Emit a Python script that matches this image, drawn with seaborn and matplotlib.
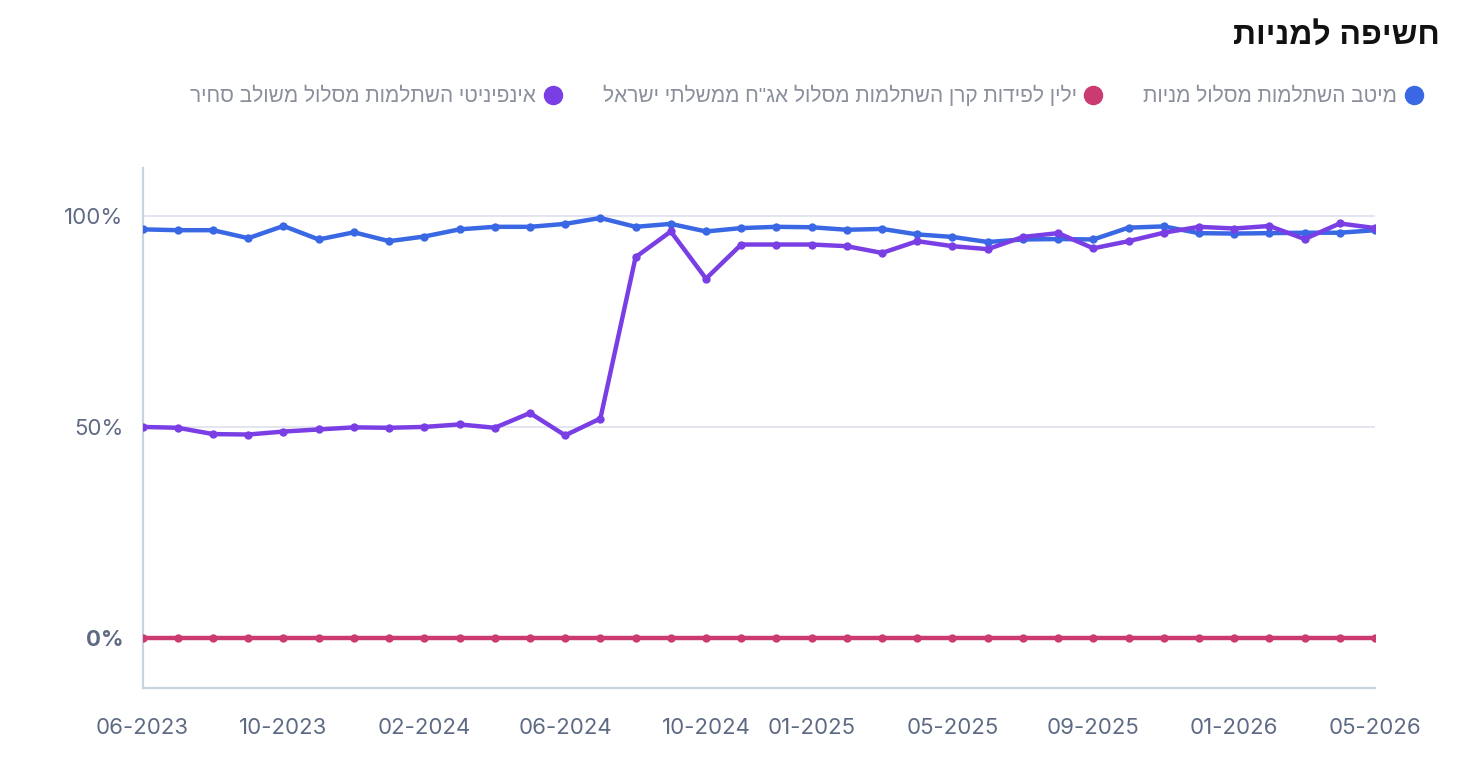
import matplotlib
matplotlib.use("Agg")
import matplotlib.pyplot as plt
import pandas as pd
import seaborn as sns

# נתונים - חשיפה למניות לפי חודש
months = [
    "06-2023", "07-2023", "08-2023", "09-2023", "10-2023", "11-2023", "12-2023",
    "01-2024", "02-2024", "03-2024", "04-2024", "05-2024", "06-2024", "07-2024",
    "08-2024", "09-2024", "10-2024", "11-2024", "12-2024", "01-2025", "02-2025",
    "03-2025", "04-2025", "05-2025", "06-2025", "07-2025", "08-2025", "09-2025",
    "10-2025", "11-2025", "12-2025", "01-2026", "02-2026", "03-2026", "04-2026",
    "05-2026",
]
tick_labels = ["06-2023", "10-2023", "02-2024", "06-2024", "10-2024",
               "01-2025", "05-2025", "09-2025", "01-2026", "05-2026"]

series_names = [
    "מיטב השתלמות מסלול מניות",
    'ילין לפידות קרן השתלמות מסלול אג"ח ממשלתי ישראל',
    "אינפיניטי השתלמות מסלול משולב סחיר",
]

blue_vals = [96.9, 96.7, 96.7, 94.8, 97.7, 94.5, 96.2, 94.1, 95.2, 96.9, 97.5, 97.5,
             98.2, 99.6, 97.5, 98.2, 96.4, 97.2, 97.5, 97.4, 96.8, 97.0, 95.7, 95.1,
             93.9, 94.5, 94.6, 94.5, 97.3, 97.6, 96.0, 95.9, 96.0, 96.1, 96.1, 96.7]
pink_vals = [0.0] * 36
purple_vals = [50.0, 49.8, 48.3, 48.2, 48.9, 49.4, 49.9, 49.8, 50.0, 50.6, 49.8, 53.3,
               48.0, 52.0, 90.3, 96.4, 85.2, 93.3, 93.3, 93.3, 92.9, 91.3, 94.1, 92.9,
               92.2, 95.1, 96.0, 92.4, 94.1, 96.1, 97.5, 97.1, 97.7, 94.6, 98.3, 97.2]

colors = ["#3A68E4", "#CC3A72", "#7A3FE4"]
heb = ["Liberation Sans", "DejaVu Sans"]


def rtl(s):
    return s[::-1]


df = pd.DataFrame({"month": months, "i": range(len(months)),
                   series_names[0]: blue_vals,
                   series_names[1]: pink_vals,
                   series_names[2]: purple_vals})
long_df = df.melt(id_vars=["month", "i"], var_name="series", value_name="value")

sns.set_style("white")
plt.rcParams["font.family"] = ["Inter", "DejaVu Sans"]

fig = plt.figure(figsize=(14.6, 7.74), dpi=100)
ax = fig.add_axes([0.0977, 0.1115, 0.8441, 0.6711])

sns.lineplot(data=long_df, x="i", y="value", hue="series", hue_order=series_names,
             palette=colors, marker="o", markersize=6, markeredgewidth=0,
             linewidth=3.2, ax=ax, legend=False, zorder=3)

ax.set_xlim(0, len(months) - 1)
ax.set_ylim(-11.9, 111.4)
ax.set_xticks([months.index(t) for t in tick_labels])
ax.set_xticklabels(tick_labels, fontsize=16, color="#5E6A84")
ax.set_yticks([0, 50, 100])
ax.set_yticklabels(["0%", "50%", "100%"], fontsize=16, color="#5E6A84")
ax.get_yticklabels()[0].set_fontweight("bold")
ax.tick_params(axis="both", length=0)
ax.tick_params(axis="x", pad=22)
ax.tick_params(axis="y", pad=14)
ax.set_xlabel("")
ax.set_ylabel("")
for y in [50, 100]:
    ax.axhline(y, color="#E3E6EE", lw=1.4, zorder=1)
for s in ["top", "right"]:
    ax.spines[s].set_visible(False)
for s in ["left", "bottom"]:
    ax.spines[s].set_color("#CBD3E1")
    ax.spines[s].set_linewidth(1.6)

fig.text(0.986, 0.953, rtl("חשיפה למניות"), ha="right", va="center",
         fontsize=23, fontweight="bold", color="#111111", family=heb)

# מקרא מימין לשמאל
handles = [plt.Line2D([], [], marker="o", ls="", markersize=13, color=c) for c in colors]
order = [2, 1, 0]
leg = fig.legend([handles[k] for k in order], [rtl(series_names[k]) for k in order],
                 loc="center right", bbox_to_anchor=(0.987, 0.877), ncol=3,
                 markerfirst=False, frameon=False, handletextpad=0.4,
                 columnspacing=2.0, handlelength=0.8,
                 prop={"family": heb, "size": 15})
for t in leg.get_texts():
    t.set_color("#8A8F9C")

fig.savefig("out.png", dpi=100)
